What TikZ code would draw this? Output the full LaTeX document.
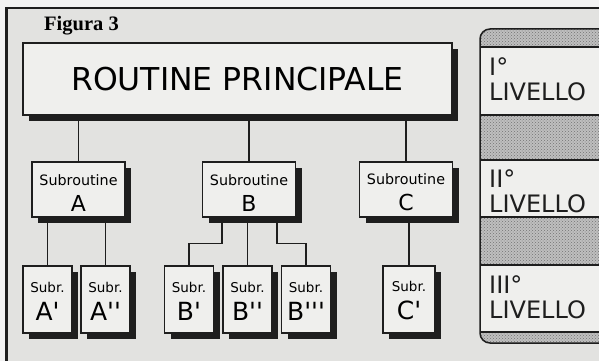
\documentclass[tikz,border=0pt]{standalone}
\usepackage{fontspec}
\newfontfamily\macfont{DejaVu Sans}
\newfontfamily\figfont{Liberation Serif}
\usetikzlibrary{shadows,patterns}
\definecolor{paperGray}{HTML}{E2E2E0}
\definecolor{boxWhite}{HTML}{EFEFED}
\definecolor{inkBlack}{HTML}{1E1E1E}

\begin{document}
\begin{tikzpicture}[x=1pt,y=-1pt,
    boxed/.style={draw=inkBlack, line width=1.2pt, fill=boxWhite, inner sep=0pt,
      drop shadow={shadow xshift=6pt, shadow yshift=-6pt, fill=inkBlack, opacity=1}},
    subbox/.style={boxed, minimum width=93pt, minimum height=55pt, align=center,
      font=\macfont\fontsize{14.3}{26}\selectfont},
    leafbox/.style={boxed, minimum width=49pt, minimum height=67pt, align=center,
      font=\macfont\fontsize{13.5}{28}\selectfont},
    lvltext/.style={anchor=north west, align=left, inner sep=0pt,
      font=\macfont\fontsize{24}{25}\selectfont, text=inkBlack},
    link/.style={draw=inkBlack, line width=1.3pt}]
    \clip (0,0) rectangle (599,361);
    \fill[white!95!black] (0,0) rectangle (599,361);
    \fill[paperGray] (6,8) rectangle (610,370);
    \draw[inkBlack, line width=3pt] (6,370) -- (6,8);
    \draw[inkBlack, line width=2pt] (5,8) -- (610,8);
    \node[font=\figfont\bfseries\fontsize{20.5}{20}\selectfont, anchor=base west, inner sep=0pt] (fig) at (44,31) {Figura 3};

    % livelli
    \begin{scope}
        \clip[rounded corners=10pt] (480,29) rectangle (620,343);
        \fill[gray!50] (480,29) rectangle (620,343);
        \fill[pattern=crosshatch dots, pattern color=black!55] (480,29) rectangle (620,343);
        \fill[boxWhite] (480,47) rectangle (620,115);
        \fill[boxWhite] (480,160) rectangle (620,217);
        \fill[boxWhite] (480,265) rectangle (620,332);
        \foreach \y in {47,115,160,217,265,332}
            \draw[inkBlack, line width=1.2pt] (480,\y) -- (620,\y);
    \end{scope}
    \draw[inkBlack, line width=1.5pt, rounded corners=10pt] (480,29) rectangle (620,343);
    \node[lvltext] (lvl1) at (489,57) {I°\\LIVELLO};
    \node[lvltext] (lvl2) at (489,169) {II°\\LIVELLO};
    \node[lvltext] (lvl3) at (489,275) {III°\\LIVELLO};

    % albero
    \node[boxed, minimum width=429pt, minimum height=72pt, font=\macfont\fontsize{31.5}{31}\selectfont] (main) at (237.5,79) {ROUTINE PRINCIPALE};

    \node[subbox] (subA) at (78.5,189.5) {\rule{0pt}{17pt}Subroutine\\\fontsize{22}{26}\selectfont A};
    \node[subbox] (subB) at (249,189.5) {\rule{0pt}{17pt}Subroutine\\\fontsize{22}{26}\selectfont B};
    \node[subbox] (subC) at (406,189.5) {\rule{0pt}{17pt}Subroutine\\\fontsize{22}{26}\selectfont C};

    \node[leafbox] (leafA1) at (47.5,299.5) {\rule{0pt}{13pt}Subr.\\\fontsize{25}{28}\selectfont A'};
    \node[leafbox] (leafA2) at (105.5,299.5) {\rule{0pt}{13pt}Subr.\\\fontsize{25}{28}\selectfont A''};
    \node[leafbox] (leafB1) at (189,299.5) {\rule{0pt}{13pt}Subr.\\\fontsize{25}{28}\selectfont B'};
    \node[leafbox] (leafB2) at (247.5,299.5) {\rule{0pt}{13pt}Subr.\\\fontsize{25}{28}\selectfont B''};
    \node[leafbox] (leafB3) at (306,299.5) {\rule{0pt}{13pt}Subr.\\\fontsize{25}{28}\selectfont B'''};
    \node[leafbox, minimum width=52pt] (leafC1) at (409,299.5) {\rule{0pt}{13pt}Subr.\\\fontsize{25}{28}\selectfont C'};

    \draw[link] (main.south -| subA.north) -- (subA.north);
    \draw[link] (main.south -| subB.north) -- (subB.north);
    \draw[link] (main.south -| subC.north) -- (subC.north);
    \draw[link] (subA.south -| leafA1.north) -- (leafA1.north);
    \draw[link] (subA.south -| leafA2.north) -- (leafA2.north);
    \draw[link] ([xshift=-27pt]subB.south) -- ++(0,26) -| (leafB1.north);
    \draw[link] (subB.south -| leafB2.north) -- (leafB2.north);
    \draw[link] ([xshift=28pt]subB.south) -- ++(0,26) -| (leafB3.north);
    \draw[link] (subC.south -| leafC1.north) -- (leafC1.north);
\end{tikzpicture}
\end{document}
